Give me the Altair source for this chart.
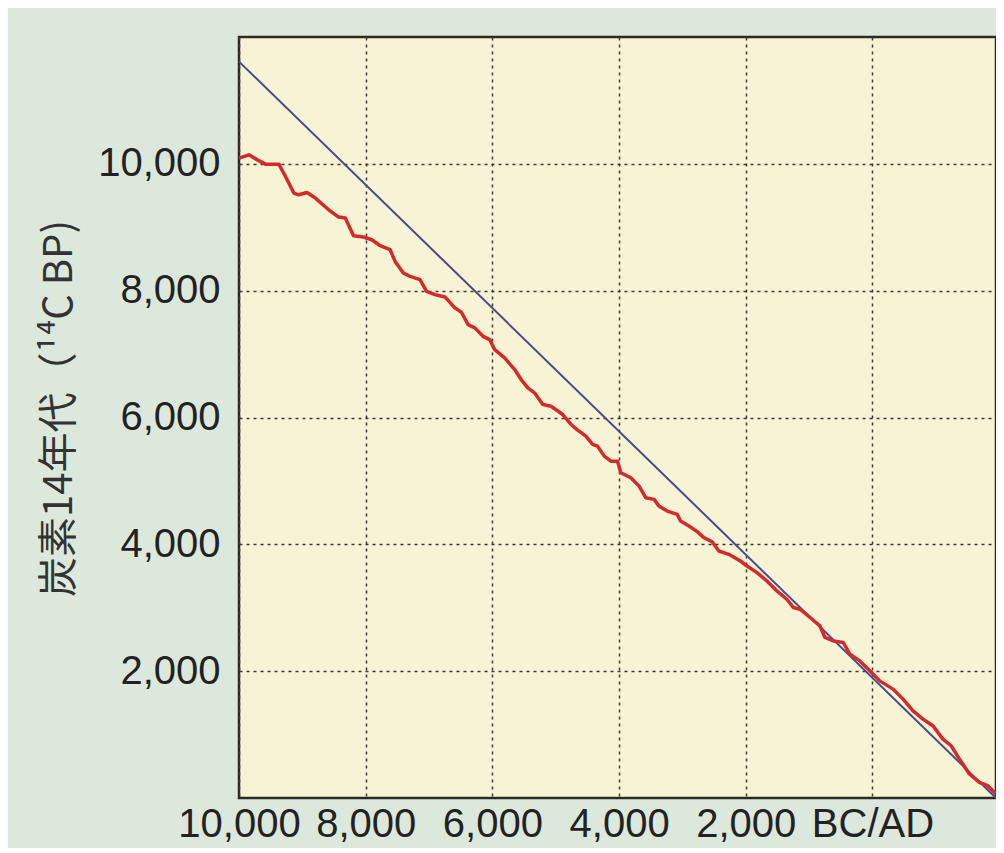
import altair as alt
import pandas as pd

# Calibration curve (red): calendar year (negative = BC) vs 14C age (BP)
red_year = [-10000, -9843, -9712, -9580, -9371, -9266, -9135, -9057, -8926, -8794,
            -8585, -8428, -8322, -8192, -8035, -7904, -7772, -7615, -7536, -7406,
            -7300, -7143, -7039, -6907, -6750, -6593, -6489, -6384, -6278, -6148,
            -6042, -5964, -5807, -5649, -5546, -5440, -5335, -5204, -5074, -4890,
            -4759, -4654, -4524, -4418, -4340, -4234, -4130, -4025, -3973, -3816,
            -3684, -3580, -3448, -3370, -3239, -3082, -3030, -2898, -2767, -2662,
            -2531, -2426, -2269, -2086, -1981, -1824, -1667, -1509, -1352, -1247,
            -1143, -986, -829, -750, -618, -461, -357, -200, -42, 115,
            325, 483, 640, 797, 954, 1112, 1242, 1373, 1530, 1687,
            1819, 1950]
red_bp = [10090, 10142, 10063, 9995, 9995, 9800, 9539, 9512, 9548, 9460,
          9276, 9161, 9145, 8866, 8846, 8803, 8709, 8646, 8461, 8279,
          8225, 8173, 7989, 7937, 7901, 7728, 7659, 7465, 7413, 7280,
          7228, 7071, 6940, 6756, 6598, 6468, 6389, 6205, 6178, 6047,
          5890, 5800, 5706, 5575, 5548, 5391, 5312, 5312, 5129, 5050,
          4918, 4735, 4709, 4603, 4524, 4472, 4367, 4288, 4200, 4106,
          4040, 3895, 3843, 3737, 3658, 3554, 3422, 3265, 3134, 3003,
          2976, 2846, 2713, 2531, 2477, 2452, 2268, 2162, 2005, 1847,
          1717, 1559, 1375, 1244, 1139, 929, 824, 614, 378, 247,
          194, 63]

# Reference line (blue)
blue_year = [-10000, 1950]
blue_bp = [11612, 0]

x_ticks = [-10000, -8000, -6000, -4000, -2000, 0]
y_ticks = [2000, 4000, 6000, 8000, 10000]
y_title = "炭素14年代（¹⁴C BP)"

red_df = pd.DataFrame({"year": red_year, "bp": red_bp})
blue_df = pd.DataFrame({"year": blue_year, "bp": blue_bp})

FONT = "Liberation Sans"
CJK = "Noto Sans CJK JP"

x_enc = alt.X(
    "year:Q",
    scale=alt.Scale(domain=[-10000, 1950], nice=False, zero=False),
    axis=alt.Axis(
        values=x_ticks,
        title=None,
        grid=True,
        gridColor="#3a3a33",
        gridDash=[3, 4],
        gridWidth=1.5,
        ticks=False,
        domain=False,
        labelOverlap=False,
        labelFlush=False,
        labelBound=False,
        labelFont=FONT,
        labelFontSize=40,
        labelColor="#222222",
        labelPadding=6,
        labelExpr="datum.value == 0 ? 'BC/AD' : format(abs(datum.value), ',d')",
    ),
)
y_enc = alt.Y(
    "bp:Q",
    scale=alt.Scale(domain=[0, 12000], nice=False),
    axis=alt.Axis(
        values=y_ticks,
        title=y_title,
        titleFont=CJK,
        titleFontSize=40,
        titleFontWeight="normal",
        titleColor="#333333",
        titleAngle=270,
        titleX=-180,
        titleY=371,
        titleAlign="center",
        titleBaseline="middle",
        grid=True,
        gridColor="#3a3a33",
        gridDash=[3, 4],
        gridWidth=1.5,
        ticks=False,
        domain=False,
        labelFlush=False,
        labelOverlap=False,
        labelFont=FONT,
        labelFontSize=40,
        labelColor="#222222",
        labelPadding=19,
        labelExpr="format(datum.value, ',d')",
    ),
)

blue = alt.Chart(blue_df).mark_line(color="#484a8c", strokeWidth=2).encode(x=x_enc, y=y_enc)
red = alt.Chart(red_df).mark_line(color="#d42a2a", strokeWidth=3.5, strokeJoin="round").encode(
    x="year:Q", y="bp:Q"
)

chart = (
    alt.layer(blue, red)
    .properties(
        width=757,
        height=761,
        autosize=alt.AutoSizeParams(type="none"),
        padding={"left": 231, "top": 29, "right": 0, "bottom": 50},
        background="#dce8dc",
    )
    .configure_view(fill="#f7f4d6", stroke="#2a2a24", strokeWidth=2.5)
)

chart.save("out.html", embed_options={"renderer": "svg", "actions": False})
